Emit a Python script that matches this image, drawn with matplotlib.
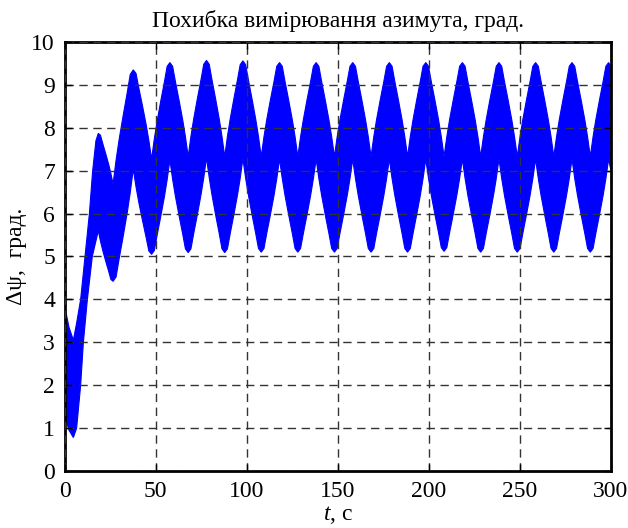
import matplotlib
matplotlib.use("Agg")
import matplotlib.pyplot as plt

# ---- data ----
# start-up part of the envelope (before the steady beating)
early_up_t = [0, 2.4, 4.8, 6.6, 8.8, 11.2, 13.6, 15.4, 17.2]
early_up_v = [3.85, 3.35, 3.05, 3.45, 4.0, 5.0, 6.0, 7.0, 7.7]
early_lo_t = [0, 2.4, 4.8, 6.6, 8.8, 10.3, 12.5, 15.2]
early_lo_v = [1.3, 0.95, 0.78, 1.0, 2.0, 3.0, 4.0, 5.0]

# times where the upper envelope peaks (lower envelope has its local maxima there)
peak_t = [18.5, 37.7, 57.8, 77.9, 97.9, 118.0, 138.1, 158.2, 178.3, 198.3,
          218.4, 238.5, 258.6, 278.6, 298.7]
peak_hi = [7.87, 9.35, 9.52, 9.57, 9.56, 9.52, 9.52, 9.52, 9.52, 9.52,
           9.52, 9.52, 9.52, 9.52, 9.52]
peak_lo = [5.6, 7.04, 7.25, 7.30, 7.28, 7.27, 7.27, 7.27, 7.27, 7.27,
           7.27, 7.27, 7.27, 7.27, 7.27]
# times where the upper envelope has notches (lower envelope troughs there)
notch_t = [26.6, 47.75, 67.85, 87.9, 107.95, 128.05, 148.15, 168.25, 188.3,
           208.35, 228.45, 248.55, 268.6, 288.65]
notch_hi = [6.69, 7.27, 7.33, 7.33, 7.33, 7.33, 7.33, 7.33, 7.33,
            7.33, 7.33, 7.33, 7.33, 7.33]
notch_lo = [4.42, 5.05, 5.09, 5.09, 5.10, 5.10, 5.10, 5.10, 5.10,
            5.12, 5.10, 5.10, 5.10, 5.10]
# envelope value at the right edge
end_t = 300
end_hi = 9.43
end_lo = 7.0
# shape of one envelope flank:
# relative distance from the rounded extreme -> relative height
shape_x = [0.15, 0.3, 0.5, 0.7, 0.85]
shape_f = [0.96, 0.80, 0.60, 0.39, 0.21]

x_ticks = [0, 50, 100, 150, 200, 250, 300]
y_ticks = list(range(0, 11))

title = "Похибка вимірювання азимута, град."
xlabel = r"$\mathit{t}$, с"
ylabel = "Δψ,  град."


def flank(t_round, v_round, t_sharp, v_sharp):
    pts = [(t_round + x * (t_sharp - t_round), v_sharp + (v_round - v_sharp) * f)
           for x, f in zip(shape_x, shape_f)]
    return sorted(pts)


def envelope(ext, rounded_first):
    """ext: list of (t, v) extremes alternating rounded/sharp."""
    pts = []
    for i in range(len(ext) - 1):
        (t0, v0), (t1, v1) = ext[i], ext[i + 1]
        pts.append((t0, v0))
        r0 = (i % 2 == 0) == rounded_first
        if r0:
            pts += flank(t0, v0, t1, v1)
        else:
            pts += flank(t1, v1, t0, v0)
    pts.append(ext[-1])
    return pts


# upper: rounded at peaks, sharp at notches
up_ext = []
for i in range(len(peak_t)):
    up_ext.append((peak_t[i], peak_hi[i]))
    if i < len(notch_t):
        up_ext.append((notch_t[i], notch_hi[i]))
upper = list(zip(early_up_t, early_up_v)) + envelope(up_ext, True) + [(end_t, end_hi)]

# lower: sharp at peak times, rounded at notch times
lo_ext = []
for i in range(len(peak_t)):
    lo_ext.append((peak_t[i], peak_lo[i]))
    if i < len(notch_t):
        lo_ext.append((notch_t[i], notch_lo[i]))
lower = list(zip(early_lo_t, early_lo_v)) + envelope(lo_ext, False) + [(end_t, end_lo)]

poly = upper + lower[::-1]
poly_x = [p[0] for p in poly]
poly_y = [p[1] for p in poly]

# ---- figure ----
plt.rcParams["font.family"] = ["Liberation Serif", "DejaVu Serif"]
plt.rcParams["mathtext.fontset"] = "custom"
plt.rcParams["mathtext.it"] = "Liberation Serif:italic"
plt.rcParams["mathtext.rm"] = "Liberation Serif"

fig = plt.figure(figsize=(6.28, 5.28), dpi=100)
ax = fig.add_axes([0.1029, 0.1080, 0.8700, 0.8125])

ax.fill(poly_x, poly_y, facecolor="#0000ff", edgecolor="#0000ff", linewidth=0.8)

ax.set_xlim(0, 300)
ax.set_ylim(0, 10)
ax.set_xticks(x_ticks)
ax.set_yticks(y_ticks)
ax.tick_params(direction="in", top=True, right=True, length=5, width=1,
               labelsize=17, pad=7)
ax.grid(True, color="#333333", linestyle=(0, (6, 4)), linewidth=1.0)
ax.set_axisbelow(False)
for s in ax.spines.values():
    s.set_linewidth(2.0)
    s.set_color("black")

ax.set_title(title, fontsize=17, pad=11)
ax.set_xlabel(xlabel, fontsize=17, labelpad=2)
ax.set_ylabel(ylabel, fontsize=17, labelpad=3)

fig.savefig("out.png", dpi=100)
